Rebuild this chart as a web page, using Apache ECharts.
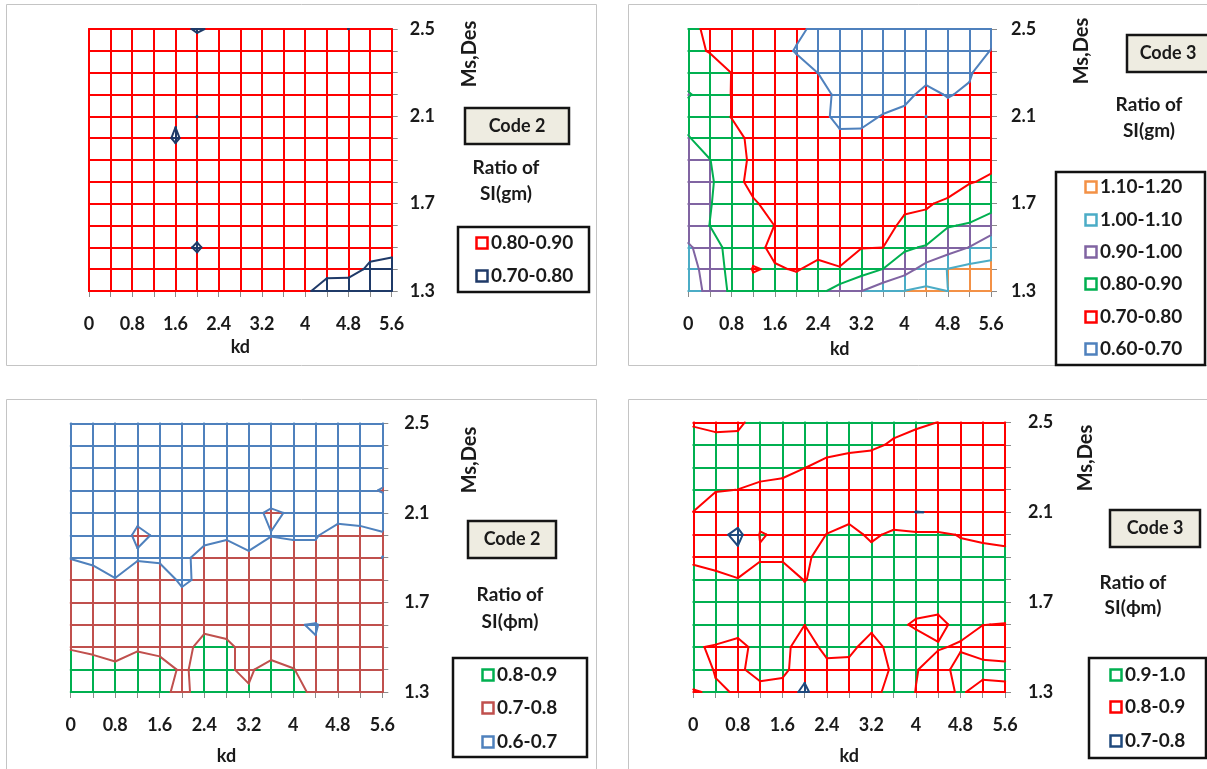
<!DOCTYPE html>
<html>
<head>
<meta charset="utf-8">
<script src="https://cdn.jsdelivr.net/npm/echarts@6/dist/echarts.min.js"></script>
<style>
  html, body { margin: 0; padding: 0; background: #ffffff; }
  #chart { width: 1207px; height: 769px; }
</style>
</head>
<body>
<div id="chart"></div>
<script>
// ---- Data ---------------------------------------------------------------
const kdValues = [0, 0.4, 0.8, 1.2, 1.6, 2.0, 2.4, 2.8, 3.2, 3.6, 4.0, 4.4, 4.8, 5.2, 5.6];
const msValues = [2.5, 2.4, 2.3, 2.2, 2.1, 2.0, 1.9, 1.8, 1.7, 1.6, 1.5, 1.4, 1.3];
const kdTickLabels = [0, 0.8, 1.6, 2.4, 3.2, 4, 4.8, 5.6];
const msTickLabels = [1.3, 1.7, 2.1, 2.5];

// Ratio of SI(gm), Code 2 — rows follow msValues, columns follow kdValues
const siGmCode2 = [
  [0.86, 0.86, 0.85, 0.85, 0.828, 0.79, 0.819, 0.84, 0.85, 0.85, 0.84, 0.83, 0.7995, 0.83, 0.84],
  [0.87, 0.86, 0.86, 0.85, 0.85, 0.846, 0.85, 0.85, 0.86, 0.86, 0.85, 0.85, 0.84, 0.85, 0.85],
  [0.87, 0.87, 0.86, 0.86, 0.85, 0.85, 0.86, 0.86, 0.86, 0.86, 0.86, 0.85, 0.85, 0.85, 0.86],
  [0.87, 0.87, 0.86, 0.86, 0.85, 0.84, 0.85, 0.86, 0.86, 0.87, 0.86, 0.86, 0.85, 0.86, 0.86],
  [0.87, 0.86, 0.86, 0.85, 0.82, 0.7995, 0.84, 0.86, 0.86, 0.86, 0.86, 0.86, 0.86, 0.86, 0.86],
  [0.86, 0.86, 0.86, 0.885, 0.78, 0.885, 0.85, 0.86, 0.86, 0.86, 0.86, 0.86, 0.86, 0.86, 0.86],
  [0.86, 0.86, 0.86, 0.86, 0.867, 0.84, 0.85, 0.86, 0.86, 0.86, 0.86, 0.86, 0.86, 0.86, 0.86],
  [0.86, 0.86, 0.86, 0.85, 0.85, 0.7998, 0.85, 0.85, 0.86, 0.86, 0.86, 0.86, 0.86, 0.86, 0.86],
  [0.86, 0.86, 0.85, 0.85, 0.85, 0.84, 0.85, 0.85, 0.85, 0.86, 0.86, 0.86, 0.86, 0.86, 0.86],
  [0.86, 0.86, 0.85, 0.85, 0.85, 0.85, 0.85, 0.85, 0.85, 0.85, 0.85, 0.85, 0.85, 0.85, 0.85],
  [0.85, 0.85, 0.85, 0.85, 0.85, 0.785, 0.86, 0.85, 0.85, 0.85, 0.84, 0.84, 0.84, 0.827, 0.813],
  [0.85, 0.85, 0.85, 0.85, 0.85, 0.85, 0.85, 0.85, 0.85, 0.85, 0.85, 0.837, 0.833, 0.786, 0.785],
  [0.85, 0.85, 0.84, 0.84, 0.84, 0.84, 0.84, 0.84, 0.83, 0.82, 0.82, 0.749, 0.75, 0.75, 0.75]
];
const siGmCode2Edges = [0.7, 0.8, 0.9];
const siGmCode2Labels = ['0.70-0.80', '0.80-0.90'];

// Ratio of SI(gm), Code 3
const siGmCode3 = [
  [0.83, 0.777, 0.76, 0.75, 0.74, 0.72, 0.678, 0.66, 0.65, 0.65, 0.65, 0.66, 0.66, 0.67, 0.68],
  [0.85, 0.789, 0.77, 0.76, 0.74, 0.693, 0.675, 0.66, 0.65, 0.655, 0.66, 0.665, 0.67, 0.685, 0.701],
  [0.87, 0.889, 0.798, 0.78, 0.76, 0.74, 0.699, 0.68, 0.665, 0.66, 0.665, 0.675, 0.685, 0.69, 0.757],
  [0.905, 0.872, 0.797, 0.78, 0.77, 0.75, 0.749, 0.671, 0.66, 0.675, 0.682, 0.719, 0.695, 0.713, 0.76],
  [0.87, 0.86, 0.797, 0.77, 0.76, 0.75, 0.718, 0.685, 0.685, 0.703, 0.717, 0.6995, 0.728, 0.74, 0.765],
  [0.905, 0.86, 0.83, 0.78, 0.76, 0.75, 0.74, 0.711, 0.712, 0.73, 0.74, 0.745, 0.75, 0.76, 0.77],
  [0.93, 0.902, 0.84, 0.784, 0.76, 0.745, 0.73, 0.72, 0.715, 0.6997, 0.72, 0.73, 0.745, 0.76, 0.78],
  [0.94, 0.909, 0.86, 0.755, 0.75, 0.74, 0.735, 0.73, 0.73, 0.735, 0.74, 0.75, 0.77, 0.795, 0.812],
  [0.945, 0.903, 0.87, 0.8175, 0.75, 0.745, 0.745, 0.745, 0.75, 0.755, 0.77, 0.7943, 0.811, 0.85, 0.87],
  [0.94, 0.899, 0.87, 0.84, 0.799, 0.76, 0.75, 0.75, 0.76, 0.749, 0.83, 0.816, 0.895, 0.907, 0.941],
  [1.015, 0.94, 0.87, 0.83, 0.777, 0.765, 0.77, 0.785, 0.797, 0.799, 0.885, 0.909, 0.95, 1.002, 1.075],
  [1.04, 0.958, 0.873, 0.795, 0.809, 0.794, 0.823, 0.802, 0.855, 0.901, 0.96, 1.039, 1.103, 1.131, 1.117],
  [1.05, 0.973, 0.882, 0.828, 0.85, 0.844, 0.87, 0.945, 0.998, 1.06, 1.101, 1.117, 1.0995, 1.14, 1.15]
];
const siGmCode3Edges = [0.6, 0.7, 0.8, 0.9, 1.0, 1.1, 1.2];
const siGmCode3Labels = ['0.60-0.70', '0.70-0.80', '0.80-0.90', '0.90-1.00', '1.00-1.10', '1.10-1.20'];

// Ratio of SI(phi m), Code 2
const siPhiCode2 = [
  [0.64, 0.63, 0.63, 0.62, 0.62, 0.62, 0.63, 0.63, 0.63, 0.64, 0.64, 0.65, 0.65, 0.66, 0.67],
  [0.64, 0.64, 0.63, 0.63, 0.63, 0.63, 0.63, 0.64, 0.64, 0.65, 0.65, 0.66, 0.66, 0.67, 0.67],
  [0.65, 0.65, 0.64, 0.64, 0.64, 0.64, 0.64, 0.65, 0.65, 0.66, 0.66, 0.67, 0.67, 0.675, 0.66],
  [0.66, 0.66, 0.65, 0.65, 0.65, 0.65, 0.65, 0.66, 0.66, 0.66, 0.67, 0.67, 0.68, 0.68, 0.705],
  [0.665, 0.665, 0.66, 0.6775, 0.66, 0.655, 0.66, 0.665, 0.681, 0.71, 0.692, 0.67, 0.675, 0.675, 0.65],
  [0.67, 0.67, 0.655, 0.715, 0.689, 0.67, 0.68, 0.695, 0.68, 0.698, 0.695, 0.695, 0.726, 0.718, 0.7095],
  [0.699, 0.685, 0.695, 0.689, 0.685, 0.685, 0.7235, 0.719, 0.7086, 0.731, 0.719, 0.719, 0.74, 0.745, 0.6995],
  [0.716, 0.728, 0.7005, 0.762, 0.745, 0.685, 0.72, 0.73, 0.735, 0.74, 0.745, 0.75, 0.755, 0.755, 0.74],
  [0.73, 0.74, 0.74, 0.75, 0.75, 0.733, 0.74, 0.745, 0.75, 0.755, 0.75, 0.766, 0.76, 0.765, 0.76],
  [0.74, 0.745, 0.75, 0.755, 0.76, 0.75, 0.765, 0.76, 0.755, 0.745, 0.7054, 0.695, 0.737, 0.77, 0.775],
  [0.795, 0.785, 0.77, 0.79, 0.78, 0.7475, 0.8525, 0.8235, 0.763, 0.78, 0.77, 0.706, 0.72, 0.75, 0.76],
  [0.837, 0.829, 0.817, 0.843, 0.829, 0.791, 0.821, 0.803, 0.795, 0.815, 0.802, 0.773, 0.765, 0.77, 0.775],
  [0.85, 0.845, 0.84, 0.85, 0.83, 0.769, 0.855, 0.84, 0.803, 0.83, 0.82, 0.787, 0.77, 0.775, 0.78]
];
const siPhiCode2Edges = [0.6, 0.7, 0.8, 0.9];
const siPhiCode2Labels = ['0.6-0.7', '0.7-0.8', '0.8-0.9'];

// Ratio of SI(phi m), Code 3
const siPhiCode3 = [
  [0.888, 0.861, 0.868, 0.971, 0.97, 0.965, 0.96, 0.95, 0.94, 0.93, 0.92, 0.899, 0.87, 0.86, 0.86],
  [0.95, 0.95, 0.95, 0.96, 0.96, 0.955, 0.95, 0.94, 0.9187, 0.888, 0.855, 0.86, 0.85, 0.85, 0.845],
  [0.955, 0.96, 0.96, 0.955, 0.95, 0.9039, 0.861, 0.832, 0.844, 0.84, 0.835, 0.84, 0.845, 0.84, 0.84],
  [0.93, 0.91, 0.899, 0.869, 0.848, 0.81, 0.82, 0.82, 0.82, 0.83, 0.83, 0.835, 0.84, 0.84, 0.845],
  [0.899, 0.81, 0.87, 0.872, 0.86, 0.85, 0.86, 0.87, 0.85, 0.84, 0.799, 0.802, 0.84, 0.835, 0.83],
  [0.85, 0.84, 0.77, 0.905, 0.888, 0.86, 0.902, 0.927, 0.885, 0.917, 0.914, 0.913, 0.896, 0.88, 0.87],
  [0.87, 0.86, 0.831, 0.891, 0.885, 0.87, 0.967, 0.95, 0.93, 0.935, 0.94, 0.94, 0.923, 0.934, 0.928],
  [0.958, 0.926, 0.905, 0.938, 0.964, 0.895, 0.945, 0.96, 0.955, 0.95, 0.95, 0.955, 0.95, 0.945, 0.94],
  [0.96, 0.955, 0.95, 0.955, 0.96, 0.945, 0.96, 0.965, 0.96, 0.955, 0.94, 0.93, 0.94, 0.935, 0.93],
  [0.95, 0.95, 0.94, 0.94, 0.945, 0.901, 0.95, 0.955, 0.94, 0.927, 0.886, 0.876, 0.929, 0.901, 0.898],
  [0.906, 0.894, 0.873, 0.93, 0.93, 0.85, 0.93, 0.94, 0.832, 0.96, 0.95, 0.907, 0.89, 0.868, 0.86],
  [0.94, 0.895, 0.87, 0.964, 0.93, 0.83, 0.87, 0.85, 0.84, 0.916, 0.905, 0.86, 0.935, 0.925, 0.9225],
  [0.895, 0.9085, 0.895, 0.841, 0.851, 0.78, 0.88, 0.86, 0.85, 0.959, 0.898, 0.87, 0.91, 0.87, 0.88]
];
const siPhiCode3Edges = [0.7, 0.8, 0.9, 1.0];
const siPhiCode3Labels = ['0.7-0.8', '0.8-0.9', '0.9-1.0'];

// ---- Panel layout and styling -------------------------------------------
const FONT = 'Lato, "Open Sans", "DejaVu Sans", sans-serif';
const TEXT = '#1a1a1a';

const panels = [
  {
    values: siGmCode2, edges: siGmCode2Edges, labels: siGmCode2Labels,
    colors: ['#1F3A68', '#FF0000'],
    code: 'Code 2', ratio: ['Ratio of', 'SI(gm)'],
    grid: { left: 89, top: 29, width: 302.7, height: 262 },
    yLabelMargin: 18, xNameGap: 47,
    border: [6.5, 4.5, 590, 361],
    msName: [470, 54],
    codeBox: [465, 108, 104, 36], codeText: [517, 126],
    ratioPos: [506, 168, 194],
    legendBox: [458, 227, 131, 65], legendMarkerX: 482, legendTextX: 491, legendY: [243, 276]
  },
  {
    values: siGmCode3, edges: siGmCode3Edges, labels: siGmCode3Labels,
    colors: ['#4F81BD', '#FF0000', '#00B050', '#8064A2', '#4BACC6', '#F39146'],
    code: 'Code 3', ratio: ['Ratio of', 'SI(gm)'],
    grid: { left: 688.3, top: 29, width: 302.7, height: 262 },
    yLabelMargin: 20, xNameGap: 49,
    border: [628.5, 4.5, 600, 361],
    msName: [1082, 51],
    codeBox: [1127, 35, 84, 37], codeText: [1168, 53.5],
    ratioPos: [1149, 105, 131],
    legendBox: [1056, 172, 149, 193], legendMarkerX: 1091, legendTextX: 1100,
    legendY: [187, 220, 252, 284, 317, 349]
  },
  {
    values: siPhiCode2, edges: siPhiCode2Edges, labels: siPhiCode2Labels,
    colors: ['#4F81BD', '#C0504D', '#00B050'],
    code: 'Code 2', ratio: ['Ratio of', 'SI(\u03D5m)'],
    grid: { left: 70.7, top: 423.3, width: 311.6, height: 268.7 },
    yLabelMargin: 22, xNameGap: 55,
    border: [6.5, 399.5, 590, 380],
    msName: [470, 460],
    codeBox: [468, 521, 88, 37], codeText: [512, 539.5],
    ratioPos: [510, 595, 622],
    legendBox: [453, 658, 134, 99], legendMarkerX: 488, legendTextX: 497,
    legendY: [675, 708, 742]
  },
  {
    values: siPhiCode3, edges: siPhiCode3Edges, labels: siPhiCode3Labels,
    colors: ['#1F497D', '#FF0000', '#00B050'],
    code: 'Code 3', ratio: ['Ratio of', 'SI(\u03D5m)'],
    grid: { left: 693.3, top: 422.3, width: 311.7, height: 269.7 },
    yLabelMargin: 23, xNameGap: 55,
    border: [628.5, 399.5, 600, 380],
    msName: [1086, 458],
    codeBox: [1110, 510, 90, 37], codeText: [1155, 528.5],
    ratioPos: [1133, 583, 608],
    legendBox: [1089, 658, 117, 100], legendMarkerX: 1116, legendTextX: 1125,
    legendY: [675, 707, 741]
  }
];

// ---- Wireframe contour construction --------------------------------------
function bandOf(v, edges) {
  let k = 0;
  for (let m = 1; m < edges.length - 1; m++) if (v >= edges[m]) k = m;
  return k;
}
function lerp(p, q, t) {
  return [p[0] + (q[0] - p[0]) * t, p[1] + (q[1] - p[1]) * t];
}
// Grid wires split where they cross a band edge and coloured by band,
// followed by the contour lines (marching squares) in the colour of the lower band.
function buildWire(grid, edges, colors) {
  const levels = edges.slice(1, -1);
  const out = [];
  const node = (r, i) => [kdValues[i], msValues[r]];
  const seg = (p, q, color) => out.push({ coords: [p, q], lineStyle: { color: color } });
  function wire(p, q, a, b) {
    const ts = [0, 1];
    levels.forEach(L => { if ((a >= L) !== (b >= L)) ts.push((L - a) / (b - a)); });
    ts.sort((x, y) => x - y);
    for (let k = 0; k + 1 < ts.length; k++) {
      if (ts[k + 1] - ts[k] < 1e-6) continue;
      const vm = a + (b - a) * (ts[k] + ts[k + 1]) / 2;
      seg(lerp(p, q, ts[k]), lerp(p, q, ts[k + 1]), colors[bandOf(vm, edges)]);
    }
  }
  const R = grid.length, C = grid[0].length;
  for (let r = 0; r < R; r++)
    for (let i = 0; i + 1 < C; i++) wire(node(r, i), node(r, i + 1), grid[r][i], grid[r][i + 1]);
  for (let r = 0; r + 1 < R; r++)
    for (let i = 0; i < C; i++) wire(node(r, i), node(r + 1, i), grid[r][i], grid[r + 1][i]);

  levels.forEach((L, m) => {
    const color = colors[m];
    for (let r = 0; r + 1 < R; r++) {
      for (let i = 0; i + 1 < C; i++) {
        const c = [
          { p: node(r, i), v: grid[r][i] },
          { p: node(r, i + 1), v: grid[r][i + 1] },
          { p: node(r + 1, i + 1), v: grid[r + 1][i + 1] },
          { p: node(r + 1, i), v: grid[r + 1][i] }
        ];
        const cross = [];
        for (let e = 0; e < 4; e++) {
          const A = c[e], B = c[(e + 1) % 4];
          if ((A.v >= L) !== (B.v >= L)) cross[e] = lerp(A.p, B.p, (L - A.v) / (B.v - A.v));
        }
        const es = [0, 1, 2, 3].filter(e => cross[e]);
        if (es.length === 2) {
          seg(cross[es[0]], cross[es[1]], color);
        } else if (es.length === 4) {
          const centre = (c[0].v + c[1].v + c[2].v + c[3].v) / 4;
          const isolateHigh = centre < L;
          for (let k = 0; k < 4; k++) {
            if ((c[k].v >= L) === isolateHigh) seg(cross[(k + 3) % 4], cross[k], color);
          }
        }
      }
    }
  });
  return out;
}

// ---- Axes ---------------------------------------------------------------
const near = (list, v) => list.some(t => Math.abs(t - v) < 1e-6);
const fmt = v => String(Number(v.toFixed(1)));
const axisGrey = '#8a8a8a';

const grids = [], xAxes = [], yAxes = [], series = [], graphics = [];

panels.forEach((p, idx) => {
  grids.push(Object.assign({ containLabel: false }, p.grid));
  xAxes.push({
    gridIndex: idx, type: 'value', min: 0, max: 5.6, interval: 0.4,
    axisLine: { show: true, onZero: false, lineStyle: { color: axisGrey, width: 1 } },
    axisTick: { show: true, length: 6, lineStyle: { color: axisGrey } },
    splitLine: { show: false },
    axisLabel: {
      margin: 24, color: TEXT, fontFamily: FONT, fontSize: 18, fontWeight: 'bold',
      formatter: v => near(kdTickLabels, v) ? fmt(v) : ''
    },
    name: 'kd', nameLocation: 'middle', nameGap: p.xNameGap,
    nameTextStyle: { color: TEXT, fontFamily: FONT, fontSize: 18, fontWeight: 'bold' }
  });
  yAxes.push({
    gridIndex: idx, type: 'value', position: 'right', min: 1.3, max: 2.5, interval: 0.1,
    axisLine: { show: true, onZero: false, lineStyle: { color: axisGrey, width: 1 } },
    axisTick: { show: true, length: 6, lineStyle: { color: axisGrey } },
    splitLine: { show: false },
    axisLabel: {
      margin: p.yLabelMargin, color: TEXT, fontFamily: FONT, fontSize: 18, fontWeight: 'bold',
      formatter: v => near(msTickLabels, v) ? v.toFixed(1) : ''
    }
  });
  series.push({
    type: 'lines', coordinateSystem: 'cartesian2d', xAxisIndex: idx, yAxisIndex: idx,
    polyline: false, large: false, silent: true, animation: false, z: 3,
    lineStyle: { width: 2, opacity: 1, cap: 'round' },
    data: buildWire(p.values, p.edges, p.colors)
  });

  // panel frame
  graphics.push({
    type: 'rect', silent: true, z: -10,
    shape: { x: p.border[0], y: p.border[1], width: p.border[2], height: p.border[3] },
    style: { fill: 'none', stroke: '#c4c4c4', lineWidth: 1 }
  });
  // vertical axis title
  graphics.push({
    type: 'text', silent: true, x: p.msName[0], y: p.msName[1], rotation: Math.PI / 2,
    style: { text: 'Ms,Des', fill: TEXT, font: 'bold 20px ' + FONT,
             align: 'center', verticalAlign: 'middle', textAlign: 'center', textVerticalAlign: 'middle' }
  });
  // code box
  const cb = p.codeBox;
  graphics.push({
    type: 'rect', silent: true,
    shape: { x: cb[0], y: cb[1], width: cb[2], height: cb[3] },
    style: { fill: '#EEECE1', stroke: '#151515', lineWidth: 2.5 }
  });
  graphics.push({
    type: 'text', silent: true, x: p.codeText[0], y: p.codeText[1],
    style: { text: p.code, fill: TEXT, font: 'bold 18px ' + FONT,
             align: 'center', verticalAlign: 'middle', textAlign: 'center', textVerticalAlign: 'middle' }
  });
  // ratio caption
  [p.ratio[0], p.ratio[1]].forEach((t, k) => {
    graphics.push({
      type: 'text', silent: true, x: p.ratioPos[0], y: p.ratioPos[1 + k],
      style: { text: t, fill: TEXT, font: 'bold 19px ' + FONT,
               align: 'center', verticalAlign: 'middle', textAlign: 'center', textVerticalAlign: 'middle' }
    });
  });
  // legend box
  const lb = p.legendBox;
  graphics.push({
    type: 'rect', silent: true,
    shape: { x: lb[0], y: lb[1], width: lb[2], height: lb[3] },
    style: { fill: '#ffffff', stroke: '#111111', lineWidth: 2.5 }
  });
  const n = p.labels.length;
  for (let k = 0; k < n; k++) {
    const band = n - 1 - k; // highest band listed first
    const y = p.legendY[k];
    graphics.push({
      type: 'rect', silent: true,
      shape: { x: p.legendMarkerX - 5.5, y: y - 5.5, width: 11, height: 11 },
      style: { fill: 'none', stroke: p.colors[band], lineWidth: 2.5 }
    });
    graphics.push({
      type: 'text', silent: true, x: p.legendTextX, y: y,
      style: { text: p.labels[band], fill: TEXT, font: 'bold 19px ' + FONT,
               align: 'left', verticalAlign: 'middle', textAlign: 'left', textVerticalAlign: 'middle' }
    });
  }
});

const chart = echarts.init(document.getElementById('chart'), null, { renderer: 'canvas' });
chart.setOption({
  backgroundColor: '#ffffff',
  animation: false,
  grid: grids,
  xAxis: xAxes,
  yAxis: yAxes,
  series: series,
  graphic: { elements: graphics }
});
</script>
</body>
</html>
